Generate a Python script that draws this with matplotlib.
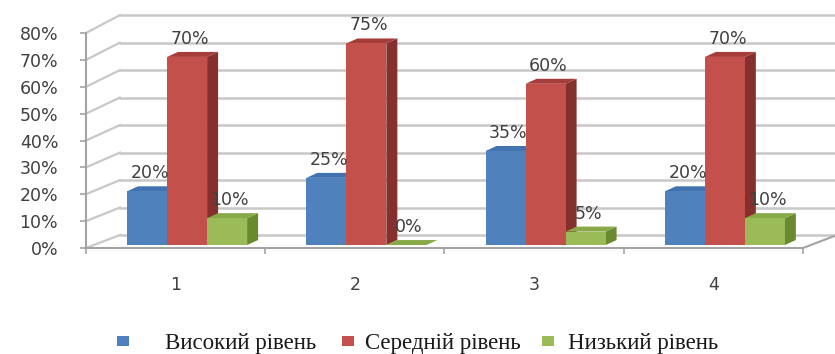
import matplotlib
matplotlib.use('Agg')
import matplotlib.pyplot as plt
from matplotlib.patches import Polygon, Rectangle
from matplotlib.ticker import FuncFormatter

categories = ['1', '2', '3', '4']
series_names = ['Високий рівень', 'Середній рівень', 'Низький рівень']
high = [20, 25, 35, 20]
medium = [70, 75, 60, 70]
low = [10, 0, 5, 10]
yticks = [0, 10, 20, 30, 40, 50, 60, 70, 80]

front = ['#4f81bd', '#c4504c', '#9bbb59']
side = ['#33598f', '#85302d', '#6a8a30']
top = ['#4272b0', '#a53d3a', '#88a947']

# pseudo-3d geometry, data units (x: category, y: percent)
px_x = 179.25
px_y = 2.6875
wall_dx, wall_dy = 34 / px_x, 13 / px_y
wall_k = 1.023
bar_w = 40 / px_x
bar_dx, bar_dy = 11 / px_x, 5 / px_y
bar_shift = 0.064
bar_base = 1.1
grid_c = '#c8c8c8'
axis_c = '#a3a3a3'
text_c = '#404040'
num_size = 12.5

fig = plt.figure(figsize=(8.35, 3.54), dpi=100)
ax = fig.add_axes([0, 0, 1, 1])
x0 = 0.5 - 86 / px_x
ax.set_xlim(x0, x0 + 835 / px_x)
ax.set_ylim(-106 / px_y, 248 / px_y)
xr = ax.get_xlim()[1]

# side wall + back wall grid
for v in yticks:
    yb = v * wall_k + wall_dy
    ax.plot([0.5, 0.5 + wall_dx], [v, yb], color=grid_c, lw=1.6, zorder=1)
    ax.plot([0.5 + wall_dx, xr], [yb, yb], color=grid_c, lw=1.8, zorder=1)
ax.plot([4.5, 4.5 + wall_dx], [0, wall_dy], color=axis_c, lw=1.5, zorder=1)

# bars
for k, vals in enumerate([high, medium, low]):
    for i, v in enumerate(vals):
        xl = i + 1 - 1.5 * bar_w + bar_shift + k * bar_w
        xh = xl + bar_w
        b = bar_base
        t = bar_base + v
        z = 3 + k
        ax.add_patch(Polygon([(xh, b), (xh + bar_dx, b + bar_dy), (xh + bar_dx, t + bar_dy), (xh, t)],
                             closed=True, facecolor=side[k], edgecolor='none', zorder=z))
        ax.add_patch(Polygon([(xl, t), (xl + bar_dx, t + bar_dy), (xh + bar_dx, t + bar_dy), (xh, t)],
                             closed=True, facecolor=top[k], edgecolor='none', zorder=z))
        ax.bar(xl, v, width=bar_w, bottom=b, align='edge', color=front[k], zorder=z)
        ax.annotate(f'{v}%', (xl + bar_w / 2, t), xytext=(2, 13), textcoords='offset points',
                    ha='center', va='center', fontsize=num_size, color=text_c, zorder=10)

for s in ['top', 'right']:
    ax.spines[s].set_visible(False)
ax.spines['left'].set_position(('data', 0.5))
ax.spines['left'].set_bounds(0, 80)
ax.spines['bottom'].set_position(('data', 0))
ax.spines['bottom'].set_bounds(0.5, 4.5)
for s in ['left', 'bottom']:
    ax.spines[s].set_color(axis_c)
    ax.spines[s].set_linewidth(1.5)

ax.set_yticks(yticks)
ax.yaxis.set_major_formatter(FuncFormatter(lambda v, p: f'{v:.0f}%'))
ax.tick_params(axis='y', length=4, width=1.2, color=axis_c, pad=16, labelsize=num_size, labelcolor=text_c)
ax.set_xticks([0.5, 1.5, 2.5, 3.5, 4.5])
ax.set_xticklabels([])
ax.set_xticks([1, 2, 3, 4], minor=True)
ax.set_xticklabels(categories, minor=True)
ax.tick_params(axis='x', which='major', length=4, width=1.2, color=axis_c)
ax.tick_params(axis='x', which='minor', length=0, pad=20, labelsize=num_size, labelcolor=text_c)

# legend
leg_sq = [117, 342, 542]
leg_tx = [165, 365, 568]
for k in range(3):
    fig.add_artist(Rectangle((leg_sq[k] / 835, 1 - 346 / 354), 12 / 835, 10 / 354,
                             transform=fig.transFigure, facecolor=front[k], edgecolor='none'))
    fig.text(leg_tx[k] / 835, 1 - 343 / 354, series_names[k], ha='left', va='center',
             fontsize=16.5, family='Liberation Serif', color='#1a1a1a')

fig.savefig('out.png', dpi=100)
